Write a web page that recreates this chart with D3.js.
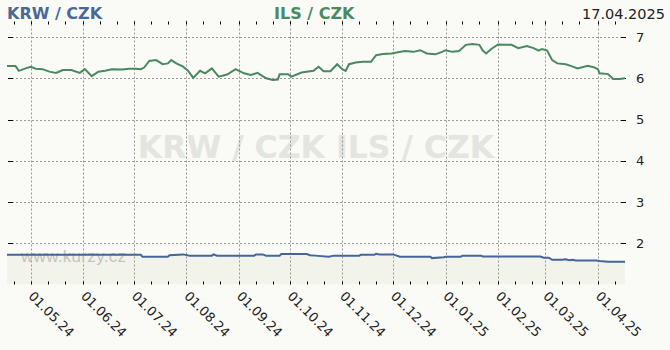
<!DOCTYPE html>
<html>
<head>
<meta charset="utf-8">
<script src="https://cdn.jsdelivr.net/npm/d3@7"></script>
<style>
  html, body { margin: 0; padding: 0; background: #fafaf6; }
  svg { display: block; }
</style>
</head>
<body>
<div id="chart"></div>
<script>
// ---- data ----
const titleLeft = "KRW / CZK";
const titleRight = "ILS / CZK";
const dateLabel = "17.04.2025";
const watermark = "KRW / CZK  ILS / CZK";
const siteMark = "www.kurzy.cz";

const ilsDates = ["2024-04-17","2024-04-22","2024-04-24","2024-04-28","2024-05-01","2024-05-04","2024-05-08","2024-05-12","2024-05-16","2024-05-20","2024-05-25","2024-05-30","2024-06-02","2024-06-06","2024-06-10","2024-06-14","2024-06-18","2024-06-24","2024-06-28","2024-07-02","2024-07-05","2024-07-07","2024-07-10","2024-07-14","2024-07-18","2024-07-21","2024-07-23","2024-07-26","2024-07-30","2024-08-02","2024-08-05","2024-08-09","2024-08-12","2024-08-16","2024-08-20","2024-08-25","2024-08-30","2024-09-04","2024-09-08","2024-09-12","2024-09-17","2024-09-21","2024-09-24","2024-09-25","2024-09-30","2024-10-02","2024-10-08","2024-10-15","2024-10-18","2024-10-21","2024-10-25","2024-10-29","2024-11-01","2024-11-03","2024-11-05","2024-11-09","2024-11-13","2024-11-18","2024-11-21","2024-11-25","2024-11-30","2024-12-04","2024-12-08","2024-12-13","2024-12-17","2024-12-21","2024-12-26","2024-12-30","2025-01-01","2025-01-05","2025-01-09","2025-01-13","2025-01-17","2025-01-21","2025-01-23","2025-01-25","2025-01-28","2025-02-01","2025-02-05","2025-02-09","2025-02-13","2025-02-18","2025-02-22","2025-02-25","2025-02-27","2025-03-02","2025-03-05","2025-03-08","2025-03-13","2025-03-16","2025-03-20","2025-03-26","2025-03-30","2025-04-01","2025-04-02","2025-04-07","2025-04-10","2025-04-14","2025-04-17"];
const ilsValues = [6.30,6.30,6.18,6.24,6.28,6.23,6.22,6.16,6.13,6.20,6.20,6.13,6.22,6.05,6.16,6.18,6.22,6.21,6.23,6.23,6.22,6.26,6.42,6.44,6.34,6.36,6.44,6.36,6.28,6.18,6.01,6.18,6.12,6.24,6.04,6.09,6.22,6.12,6.08,6.13,6.00,5.96,5.97,6.10,6.10,6.04,6.14,6.18,6.28,6.17,6.17,6.34,6.22,6.18,6.34,6.38,6.40,6.40,6.56,6.59,6.60,6.63,6.66,6.64,6.68,6.60,6.58,6.64,6.68,6.64,6.66,6.81,6.83,6.81,6.67,6.60,6.71,6.82,6.81,6.81,6.73,6.78,6.73,6.67,6.71,6.67,6.44,6.36,6.34,6.30,6.24,6.30,6.26,6.22,6.12,6.10,5.98,5.98,6.00];

const krwDates = ["2024-04-17","2024-07-05","2024-07-06","2024-07-21","2024-07-22","2024-07-30","2024-08-03","2024-08-16","2024-08-17","2024-08-19","2024-09-10","2024-09-11","2024-09-15","2024-09-17","2024-09-25","2024-09-26","2024-10-11","2024-10-13","2024-10-16","2024-10-24","2024-10-27","2024-11-11","2024-11-12","2024-11-20","2024-11-21","2024-11-23","2024-12-01","2024-12-05","2024-12-23","2024-12-24","2024-12-31","2025-01-01","2025-01-10","2025-01-11","2025-01-22","2025-01-23","2025-02-26","2025-02-28","2025-03-03","2025-03-05","2025-03-11","2025-03-13","2025-03-15","2025-03-17","2025-03-19","2025-03-31","2025-04-02","2025-04-07","2025-04-17"];
const krwValues = [1.72,1.72,1.675,1.675,1.71,1.73,1.70,1.70,1.73,1.70,1.70,1.73,1.73,1.70,1.70,1.74,1.74,1.71,1.70,1.675,1.70,1.70,1.72,1.72,1.745,1.73,1.73,1.675,1.675,1.64,1.66,1.675,1.675,1.70,1.70,1.68,1.68,1.65,1.65,1.60,1.60,1.61,1.59,1.60,1.58,1.58,1.57,1.55,1.55];

const yTicks = [2, 3, 4, 5, 6, 7];
const xTickLabels = ["01.05.24","01.06.24","01.07.24","01.08.24","01.09.24","01.10.24","01.11.24","01.12.24","01.01.25","01.02.25","01.03.25","01.04.25"];

// ---- chart ----
const W = 670, H = 350;
const parse = d3.timeParse("%Y-%m-%d");
const ils = ilsDates.map((d, i) => ({ date: parse(d), value: ilsValues[i] }));
const krw = krwDates.map((d, i) => ({ date: parse(d), value: krwValues[i] }));

const pLeft = 7, pRight = 625, pTop = 20.5, pBottom = 284.5;
const x = d3.scaleTime().domain([parse("2024-04-17"), parse("2025-04-17")]).range([pLeft, pRight]);
const y = d3.scaleLinear().domain([1, 7.4]).range([pBottom, pTop]);

const svg = d3.select("#chart").append("svg").attr("width", W).attr("height", H);
svg.append("rect").attr("width", W).attr("height", H).attr("fill", "#fafaf6");

// area under KRW
svg.append("path").datum(krw)
  .attr("fill", "#f2f3eb")
  .attr("d", d3.area().x(d => x(d.date)).y0(pBottom).y1(d => y(d.value)));

// watermark
svg.append("text").attr("x", 316).attr("y", 158).attr("text-anchor", "middle")
  .attr("font-family", "DejaVu Sans, sans-serif").attr("font-weight", "bold")
  .attr("font-size", 31.5).attr("fill", "#e4e4e0").text(watermark);

// grid
const monthStarts = xTickLabels.map(s => d3.timeParse("%d.%m.%y")(s));
const grid = svg.append("g").attr("stroke", "#9a9a9a").attr("stroke-width", 1).attr("stroke-dasharray", "2,2");
yTicks.forEach(v => {
  grid.append("line").attr("x1", pLeft + 1).attr("x2", pRight - 4)
    .attr("y1", Math.round(y(v)) + 0.5).attr("y2", Math.round(y(v)) + 0.5);
});
monthStarts.forEach(d => {
  grid.append("line").attr("y1", pTop).attr("y2", pBottom)
    .attr("x1", Math.round(x(d)) + 0.5).attr("x2", Math.round(x(d)) + 0.5);
});

// minor ticks (1st, 11th, 21st of months) top & bottom
const tickDates = [];
d3.timeDay.range(x.domain()[0], x.domain()[1]).forEach(d => {
  const dd = d.getDate();
  if (dd === 1 || dd === 11 || dd === 21) tickDates.push(d);
});
const tk = svg.append("g").attr("stroke", "#000").attr("stroke-width", 1);
tickDates.forEach(d => {
  const px = Math.round(x(d)) + 0.5;
  tk.append("line").attr("x1", px).attr("x2", px).attr("y1", pTop + 1).attr("y2", pTop + 4);
  tk.append("line").attr("x1", px).attr("x2", px).attr("y1", pBottom - 3).attr("y2", pBottom);
});
yTicks.forEach(v => {
  const py = Math.round(y(v)) + 0.5;
  tk.append("line").attr("x1", pLeft + 1).attr("x2", pLeft + 6).attr("y1", py).attr("y2", py);
  tk.append("line").attr("x1", pRight - 4).attr("x2", pRight + 1).attr("y1", py).attr("y2", py);
});

// site watermark
svg.append("text").attr("x", 21).attr("y", 262)
  .attr("font-family", "Liberation Sans, Arial, sans-serif").attr("font-size", 17)
  .attr("fill", "#c4c4c0").attr("letter-spacing", 0.3).text(siteMark);

// lines
const line = d3.line().x(d => x(d.date)).y(d => y(d.value));
svg.append("path").datum(krw).attr("fill", "none").attr("stroke", "#46659a").attr("stroke-width", 2).attr("d", line);
svg.append("path").datum(ils).attr("fill", "none").attr("stroke", "#4a8862").attr("stroke-width", 2).attr("d", line);

// y labels
svg.append("g").selectAll("text").data(yTicks).join("text")
  .attr("x", 636).attr("y", d => y(d)).attr("dy", "0.36em")
  .attr("font-family", "DejaVu Sans, sans-serif").attr("font-size", 13)
  .attr("fill", "#222").text(d => d);

// x labels
svg.append("g").selectAll("text").data(xTickLabels).join("text")
  .attr("transform", (s, i) => `translate(${x(monthStarts[i]) - 3},${297}) rotate(45)`)
  .attr("font-family", "DejaVu Sans, sans-serif").attr("font-size", 13)
  .attr("fill", "#222").text(d => d);

// titles
svg.append("text").attr("x", 7).attr("y", 19)
  .attr("font-family", "DejaVu Sans, sans-serif").attr("font-weight", "bold").attr("font-size", 16)
  .attr("fill", "#4a6898").text(titleLeft);
svg.append("text").attr("x", 274).attr("y", 19)
  .attr("font-family", "DejaVu Sans, sans-serif").attr("font-weight", "bold").attr("font-size", 16)
  .attr("fill", "#4a8a60").text(titleRight);
svg.append("text").attr("x", 665).attr("y", 19).attr("text-anchor", "end")
  .attr("font-family", "DejaVu Sans, sans-serif").attr("font-size", 14.5)
  .attr("fill", "#222").text(dateLabel);
</script>
</body>
</html>
